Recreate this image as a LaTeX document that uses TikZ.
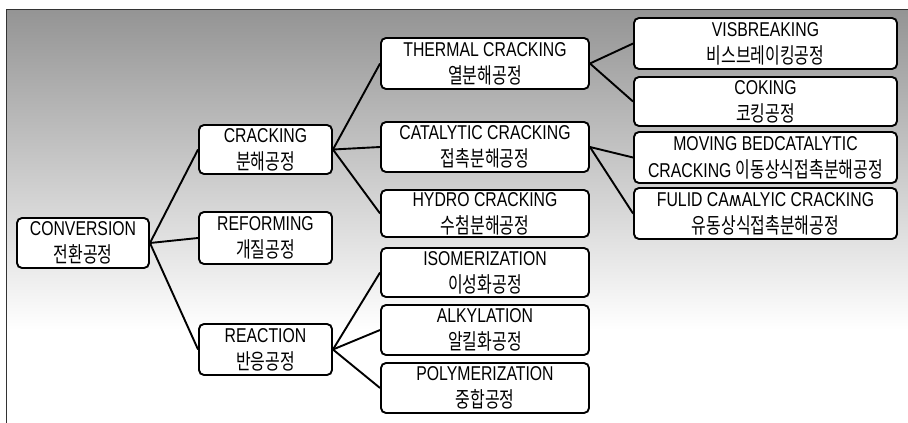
\documentclass[tikz,border=0pt]{standalone}
\usepackage{fontspec}
\setmainfont{Liberation Sans}[FakeStretch=0.79]
\newfontfamily\kor{Noto Sans CJK KR}[FakeStretch=0.74,Scale=1.08]
\newfontfamily\dvs{DejaVu Sans}[FakeStretch=0.79]
\begin{document}
\begin{tikzpicture}[x=1pt,y=-1pt,
  box/.style={draw=black, line width=1.9pt, rounded corners=5pt, fill=white,
    align=center, inner sep=0pt, font=\fontsize{20}{27}\selectfont},
  link/.style={draw=black, line width=1.9pt}]
\useasboundingbox (0,0) rectangle (908,423);
\fill[white] (0,0) rectangle (908,423);
\shade[top color=black!42, bottom color=white] (6,9) rectangle (908,330);
\draw[line width=1pt, black!80] (6,9) -- (908,9);
\draw[line width=1pt, black!80] (6,9) -- (6,423);

\node[box, minimum width=132, minimum height=50] (conv) at (83,243) {CONVERSION\\{\kor 전환공정}};
\node[box, minimum width=133, minimum height=49] (crack) at (265.5,149.5) {CRACKING\\{\kor 분해공정}};
\node[box, minimum width=133, minimum height=52] (reform) at (265.5,238) {REFORMING\\{\kor 개질공정}};
\node[box, minimum width=133, minimum height=51] (react) at (265.5,349.5) {REACTION\\{\kor 반응공정}};

\node[box, minimum width=208, minimum height=51] (thermal) at (485,63.5) {THERMAL CRACKING\\{\kor 열분해공정}};
\node[box, minimum width=208, minimum height=50] (catal) at (485,147) {CATALYTIC CRACKING\\{\kor 접촉분해공정}};
\node[box, minimum width=208, minimum height=47] (hydro) at (485,213.5) {HYDRO CRACKING\\{\kor 수첨분해공정}};
\node[box, minimum width=208, minimum height=49] (iso) at (485,272.5) {ISOMERIZATION\\{\kor 이성화공정}};
\node[box, minimum width=208, minimum height=50] (alky) at (485,330) {ALKYLATION\\{\kor 알킬화공정}};
\node[box, minimum width=208, minimum height=50] (poly) at (485,388) {POLYMERIZATION\\{\kor 중합공정}};

\node[box, minimum width=263, minimum height=51] (vis) at (765.5,43.5) {VISBREAKING\\{\kor 비스브레이킹공정}};
\node[box, minimum width=263, minimum height=49] (cok) at (765.5,101.5) {COKING\\{\kor 코킹공정}};
\node[box, minimum width=263, minimum height=51] (mov) at (765.5,157.5) {MOVING BEDCATALYTIC\\CRACKING {\kor 이동상식접촉분해공정}};
\node[box, minimum width=263, minimum height=51] (ful) at (765.5,213.5) {FULID CA{\dvs ʍ}ALYIC CRACKING\\{\kor 유동상식접촉분해공정}};

\draw[link] (conv.east) -- (crack.west);
\draw[link] (conv.east) -- (reform.west);
\draw[link] (conv.east) -- (react.west);
\draw[link] (crack.east) -- (thermal.west);
\draw[link] (crack.east) -- (catal.west);
\draw[link] (crack.east) -- (hydro.west);
\draw[link] (react.east) -- (iso.west);
\draw[link] (react.east) -- (alky.west);
\draw[link] (react.east) -- (poly.west);
\draw[link] (thermal.east) -- (vis.west);
\draw[link] (thermal.east) -- (cok.west);
\draw[link] (catal.east) -- (mov.west);
\draw[link] (catal.east) -- (ful.west);
\end{tikzpicture}
\end{document}
